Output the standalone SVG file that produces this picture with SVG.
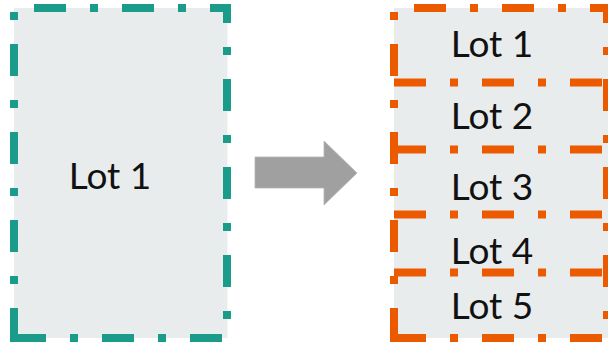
<svg xmlns="http://www.w3.org/2000/svg" width="608" height="344" viewBox="0 0 608 344">
  <style>
    .bg { fill: #E8ECED; stroke: none; }
    .teal { fill: none; stroke: #1B9B8A; stroke-width: 8; stroke-dasharray: 32 24 8 24; stroke-linejoin: miter; }
    .orange { fill: none; stroke: #EC5A00; stroke-width: 8; stroke-dasharray: 32 24 8 24; stroke-linejoin: miter; }
    .lbl { font-family: Lato, "Liberation Sans", sans-serif; font-size: 37px; fill: #111111; text-anchor: middle; }
    .arrow { fill: #A0A0A0; stroke: #B4B4B4; stroke-width: 0.8; }
  </style>
  <g id="source-lot">
    <rect class="bg" x="14" y="8" width="213.5" height="330"/>
    <path class="teal" d="M14,338 H227 V8 H14 Z"/>
    <text class="lbl" x="110" y="189">Lot 1</text>
  </g>
  <g id="lots">
    <rect class="bg" x="394" y="8" width="214" height="330"/>
    <g id="lot-1"><text class="lbl" x="492" y="57">Lot 1</text></g>
    <g id="lot-2"><text class="lbl" x="492" y="129">Lot 2</text></g>
    <g id="lot-3"><text class="lbl" x="492" y="200">Lot 3</text></g>
    <g id="lot-4"><text class="lbl" x="492" y="264">Lot 4</text></g>
    <g id="lot-5"><text class="lbl" x="492" y="319">Lot 5</text></g>
    <path class="orange" d="M394,338 H607 V8 H394 Z"/>
    <path class="orange" d="M394,82.5 H607"/>
    <path class="orange" d="M394,149.5 H607"/>
    <path class="orange" d="M394,214.5 H607"/>
    <path class="orange" d="M394,272.5 H607"/>
  </g>
  <g id="connectors">
    <polygon class="arrow" points="255,157 324,157 324,141 357,173 324,205 324,188 255,188"/>
  </g>
</svg>
